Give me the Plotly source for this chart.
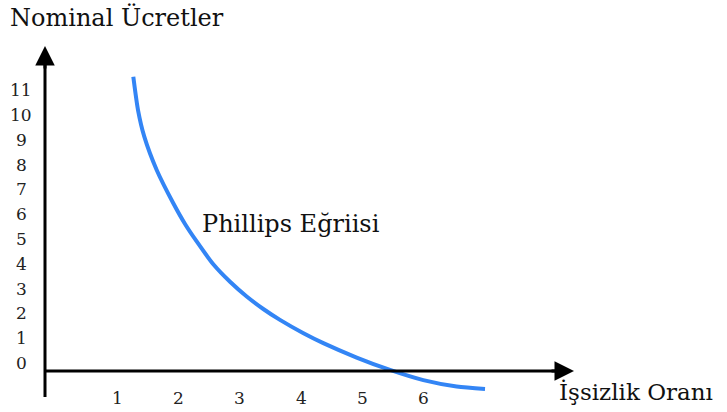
import plotly.graph_objects as go

# Data
x_ticks = [1, 2, 3, 4, 5, 6]
y_ticks = [0, 1, 2, 3, 4, 5, 6, 7, 8, 9, 10, 11]
curve_x = [1.253, 1.330, 1.433, 1.636, 1.908, 2.100, 2.291, 2.563, 2.837, 3.110, 3.382,
           3.655, 4.032, 4.365, 4.911, 5.457, 6.002, 6.549, 7.013]
curve_y = [11.54, 10.20, 9.125, 7.782, 6.44, 5.605, 4.90, 3.98, 3.274, 2.681, 2.177,
           1.738, 1.21, 0.80, 0.22, -0.28, -0.69, -0.948, -1.048]
y_title = "Nominal Ücretler"
x_title = "İşsizlik Oranı"
curve_label = "Phillips Eğriisi"

W, H = 727, 412
# calibration: pixel = X0 + SX * x ; pixel_y = Y0 - SY * y
X0, SX = 56.8, 61.06
Y0, SY = 363.0, 24.8

def dx(px):
    return (px - X0) / SX

def dy(py):
    return (Y0 - py) / SY

FONT = "DejaVu Serif"
fig = go.Figure()
fig.add_trace(go.Scatter(x=curve_x, y=curve_y, mode="lines",
                         line=dict(color="#3385f5", width=4, shape="spline", smoothing=0.7),
                         hoverinfo="skip", showlegend=False))

axis_x = dx(45)
axis_y = dy(371)
shapes = [
    dict(type="line", x0=axis_x, x1=axis_x, y0=dy(397), y1=dy(60),
         line=dict(color="black", width=3)),
    dict(type="line", x0=axis_x, x1=dx(562), y0=axis_y, y1=axis_y,
         line=dict(color="black", width=3)),
]
ann = []
# arrowheads
ann.append(dict(x=axis_x, y=dy(46), ax=axis_x, ay=dy(70), xref="x", yref="y", axref="x", ayref="y",
                showarrow=True, arrowhead=2, arrowsize=1.3, arrowwidth=3, arrowcolor="black", text=""))
ann.append(dict(x=dx(574), y=axis_y, ax=dx(550), ay=axis_y, xref="x", yref="y", axref="x", ayref="y",
                showarrow=True, arrowhead=2, arrowsize=1.3, arrowwidth=3, arrowcolor="black", text=""))
for v in y_ticks:
    ann.append(dict(x=dx(21), y=v, text=str(v), showarrow=False, xanchor="center", yanchor="middle",
                    font=dict(family=FONT, size=17, color="#222")))
for v in x_ticks:
    ann.append(dict(x=v, y=dy(398), text=str(v), showarrow=False, xanchor="center", yanchor="middle",
                    font=dict(family=FONT, size=17, color="#222")))
ann.append(dict(x=dx(8), y=dy(17), text=y_title, showarrow=False, xanchor="left", yanchor="middle",
                font=dict(family=FONT, size=24, color="#111")))
ann.append(dict(x=dx(557), y=dy(392), text=x_title, showarrow=False, xanchor="left", yanchor="middle",
                font=dict(family=FONT, size=23, color="#111")))
ann.append(dict(x=dx(200), y=dy(224), text=curve_label, showarrow=False, xanchor="left", yanchor="middle",
                font=dict(family=FONT, size=24, color="#111")))

fig.update_layout(
    width=W, height=H, margin=dict(l=0, r=0, t=0, b=0),
    paper_bgcolor="white", plot_bgcolor="white",
    xaxis=dict(range=[dx(0), dx(W)], visible=False, fixedrange=True),
    yaxis=dict(range=[dy(H), dy(0)], visible=False, fixedrange=True),
    shapes=shapes, annotations=ann,
)
fig.write_html("out.html", post_script="document.body.style.margin='0px';",
               config={"displayModeBar": False})
